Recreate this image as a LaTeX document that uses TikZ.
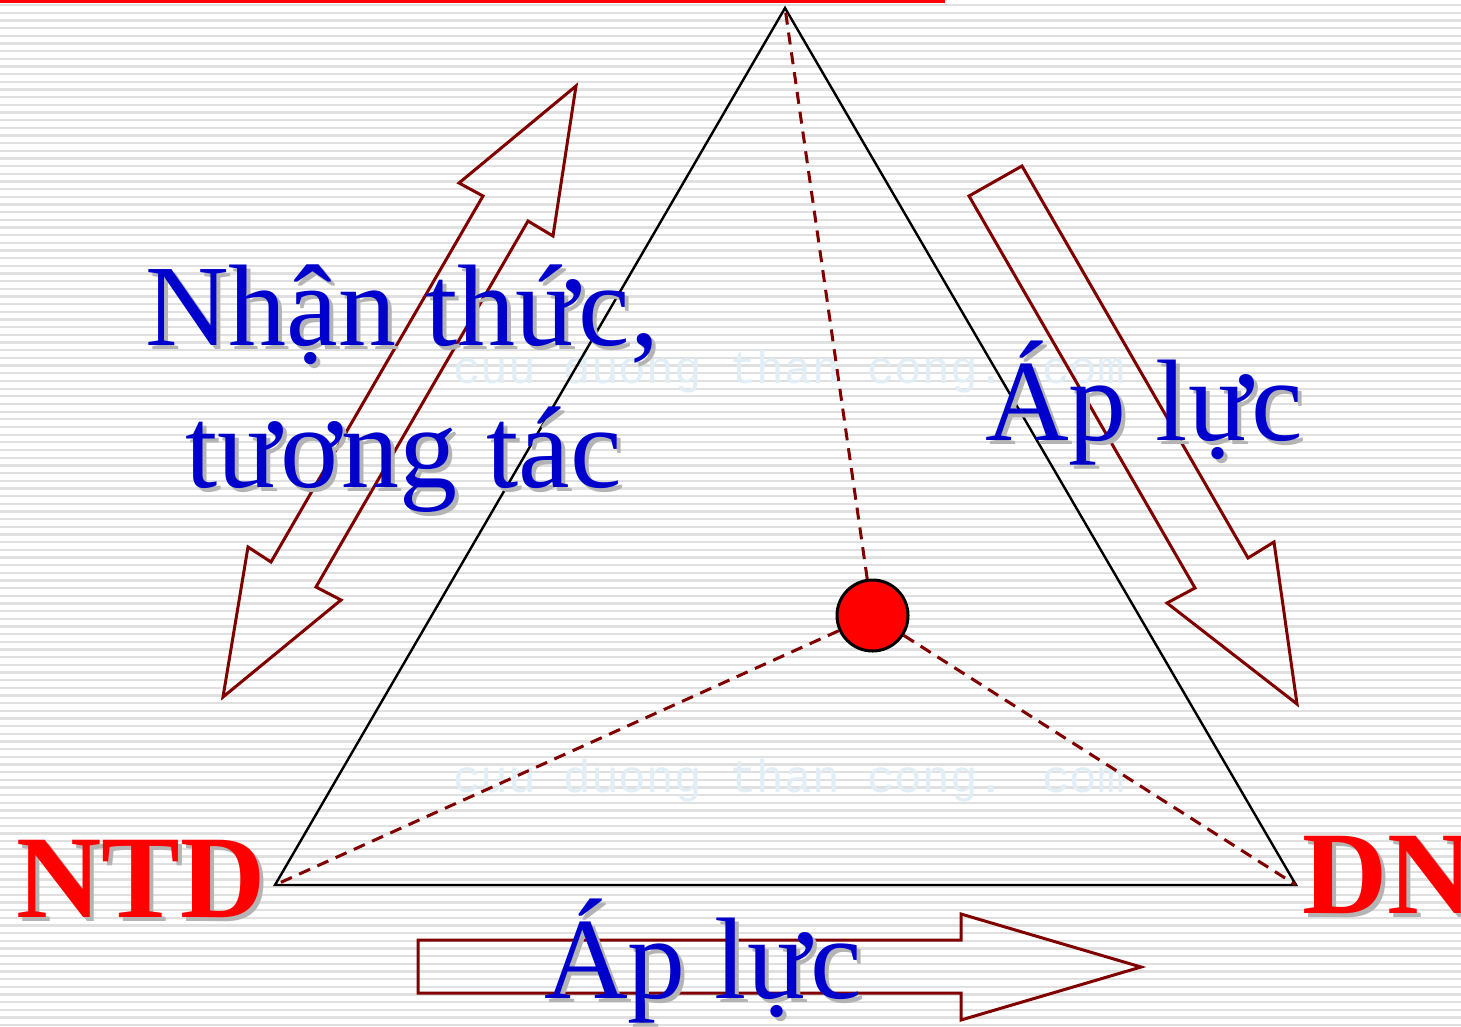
\documentclass[tikz,border=0pt]{standalone}
\usepackage{fontspec}
\setmainfont{Liberation Serif}
\newfontfamily\wmfont{Liberation Mono}
\definecolor{txtblue}{HTML}{0000CC}
\definecolor{shadowgray}{HTML}{B4B4B4}
\definecolor{arrowred}{HTML}{800000}
\definecolor{stripegray}{HTML}{E0E0E0}
\definecolor{wmblue}{HTML}{E2EEF6}
\newcommand\slabel[4]{%
  \node[#2, text=shadowgray, shift={(4,4)}] (#1-sh) at #3 {#4};
  \node[#2] (#1) at #3 {#4};}
\begin{document}
\begin{tikzpicture}[x=1pt,y=-1pt,
  bigtxt/.style={inner sep=0pt, anchor=base west, font=\fontsize{116}{120}\selectfont, text=txtblue},
  boldtxt/.style={inner sep=0pt, anchor=base west, font=\fontsize{118}{120}\selectfont\bfseries, text=red},
  wmtxt/.style={inner sep=0pt, anchor=base west, font=\fontsize{46}{50}\selectfont\wmfont, text=wmblue},
  blockarrow/.style={draw=arrowred, line width=3, line join=miter},
  dashline/.style={draw=arrowred, line width=3, dash pattern=on 12 off 8},
  edge/.style={draw=black, line width=2.4, line join=miter}]
\useasboundingbox (0,0) rectangle (1461,1026);
\fill[white] (0,0) rectangle (1461,1026);
\foreach \i in {0,...,133} \fill[stripegray] (0,{4+\i*7.67}) rectangle (1461,{6.3+\i*7.67});
\fill[red] (0,0) rectangle (945,2.5);
% watermark
\node[wmtxt] (wm1) at (453,383) {cuu duong than cong. com};
\node[wmtxt] (wm2) at (453,792) {cuu duong than cong. com};
% triangle
\coordinate (top) at (785,8);
\coordinate (bl) at (275,885);
\coordinate (br) at (1296,885);
\draw[edge] (top) -- (bl) -- (br) -- cycle;
% centre dot
\node[circle, fill=red, draw=black, line width=3, minimum size=71, inner sep=0pt] (dot) at (872.5,615.5) {};
\draw[dashline] (dot) -- (top);
\draw[dashline] (dot) -- (bl);
\draw[dashline] (dot) -- (br);
% block arrows
\draw[blockarrow] (223,697) -- (248,547) -- (271,562) -- (483,196) -- (459,183) -- (576,86) -- (553,236) -- (528,221) -- (316,587) -- (341,600) -- cycle;
\draw[blockarrow] (969,196) -- (1022,166) -- (1248,558) -- (1274,542) -- (1297,704) -- (1167,603) -- (1195,588) -- cycle;
\draw[blockarrow] (418,940) -- (961,940) -- (961,914) -- (1141,967) -- (961,1020) -- (961,993) -- (418,993) -- cycle;
% labels
\slabel{nhan}{bigtxt}{(145,345)}{Nhận thức,}
\slabel{tuong}{bigtxt}{(185,487)}{tương tác}
\slabel{apr}{bigtxt}{(985,440)}{Áp lực}
\slabel{apb}{bigtxt}{(544,998)}{Áp lực}
\slabel{ntd}{boldtxt}{(16,917)}{NTD}
\slabel{dn}{boldtxt}{(1302,913)}{DN}
\end{tikzpicture}
\end{document}
